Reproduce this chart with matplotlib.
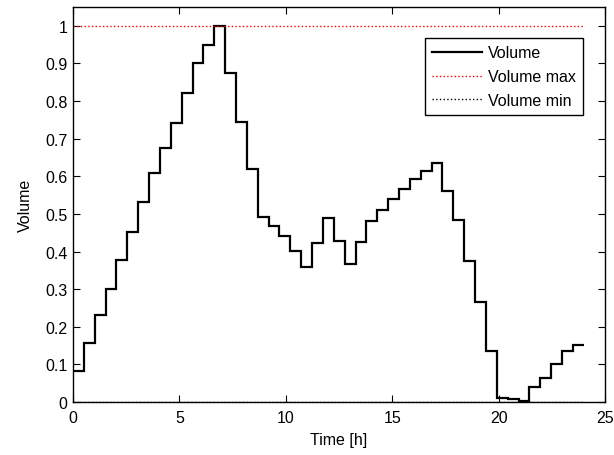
import numpy as np
import matplotlib
matplotlib.use("Agg")
import matplotlib.pyplot as plt

plt.rcParams['font.family'] = ['Liberation Sans', 'DejaVu Sans']

# volume per time slot (47 slots over 24 h)
volume = [0.082, 0.158, 0.232, 0.301, 0.378, 0.451, 0.531, 0.609, 0.675, 0.742,
          0.821, 0.900, 0.950, 1.000, 0.874, 0.745, 0.620, 0.491, 0.469, 0.441,
          0.401, 0.358, 0.422, 0.489, 0.429, 0.367, 0.425, 0.482, 0.511, 0.540,
          0.566, 0.593, 0.613, 0.636, 0.560, 0.485, 0.374, 0.265, 0.136, 0.011,
          0.007, 0.003, 0.039, 0.063, 0.100, 0.136, 0.152]
t_start = 0
t_end = 24
vol_max = 1.0
vol_min = 0.0

edges = np.linspace(t_start, t_end, len(volume) + 1)

fig = plt.figure(figsize=(6.14, 4.56), dpi=100)
ax = fig.add_axes([73 / 614, 53 / 456, 532 / 614, 395 / 456])

ax.stairs(volume, edges, baseline=None, color='k', linewidth=1.6, label='Volume')
ax.plot([t_start, t_end], [vol_max, vol_max], color='r', linestyle=':', linewidth=1.0,
        label='Volume max')
ax.plot([t_start, t_end], [vol_min, vol_min], color='k', linestyle=':', linewidth=1.0,
        label='Volume min')

ax.set_xlim(0, 25)
ax.set_ylim(0, 1.05)
ax.set_xticks(np.arange(0, 26, 5))
ax.set_yticks(np.arange(0, 1.01, 0.1))
ax.set_yticklabels(['0', '0.1', '0.2', '0.3', '0.4', '0.5', '0.6', '0.7', '0.8', '0.9', '1'])
ax.tick_params(direction='in', top=True, right=True, length=5, labelsize=11.5, pad=4)
ax.tick_params(axis='x', pad=6)
for s in ax.spines.values():
    s.set_linewidth(1.0)

ax.set_xlabel('Time [h]', fontsize=11.5, labelpad=5)
ax.set_ylabel('Volume', fontsize=11.5, labelpad=9)

leg = ax.legend(loc='upper right', bbox_to_anchor=(0.959, 0.921), fancybox=False,
                framealpha=1, edgecolor='k', fontsize=11.5, handlelength=3.1,
                borderpad=0.45, labelspacing=0.55, handletextpad=0.4, borderaxespad=0)
leg.get_frame().set_linewidth(1.0)

fig.savefig('out.png', dpi=100)
